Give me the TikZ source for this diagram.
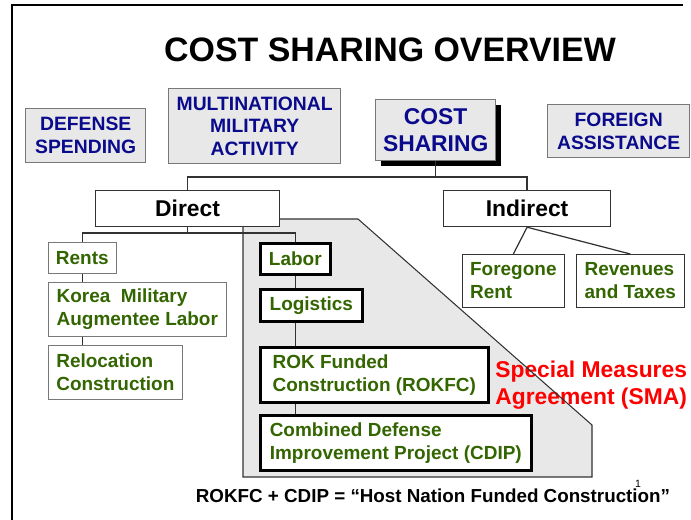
\documentclass[tikz,border=0pt]{standalone}
\usepackage{fontspec}
\setmainfont{Liberation Sans}
\definecolor{navyblue}{RGB}{10, 10, 140}
\definecolor{leafgreen}{RGB}{51, 102, 0}
\definecolor{panelgray}{RGB}{232, 232, 232}
\definecolor{boxgray}{RGB}{120, 120, 120}
\definecolor{darkline}{RGB}{50, 50, 50}
\definecolor{smared}{RGB}{255, 0, 0}
\usetikzlibrary{shadows}
\tikzset{
  topbox/.style={rectangle, draw=boxgray, fill=panelgray, line width=0.8pt, text=navyblue, font=\fontsize{11}{13}\selectfont\bfseries, align=center, inner sep=2pt, anchor=north west},
  branchnode/.style={rectangle, draw=darkline, fill=white, line width=0.7pt, font=\fontsize{13}{15}\selectfont\bfseries, minimum height=0.72cm, anchor=north west},
  leafnode/.style={rectangle, draw=#1, fill=white, text=leafgreen, font=\fontsize{10.8}{13}\selectfont\bfseries, align=left, inner sep=2pt, anchor=north west},
  smaleaf/.style={leafnode=black, line width=1.5pt},
  link/.style={draw=darkline, line width=0.7pt},
}

\begin{document}
\begin{tikzpicture}[x=0.02cm, y=-0.02cm]
\useasboundingbox (0,0) rectangle (691,520);
% slide frame and title
\draw[line width=1.7pt] (683,5) -- (12,5) -- (12,520);
\node[anchor=base, font=\fontsize{19.3}{23}\selectfont\bfseries] (title) at (390,62) {COST SHARING OVERVIEW};

% special measures area
\fill[panelgray] (243,219) -- (358,219) -- (592,425) -- (592,477) -- (243,477) -- cycle;
\node[anchor=west, inner sep=0pt, text=smared, align=left, font=\fontsize{13}{15.5}\selectfont\bfseries] (sma) at (495,385) {Special Measures\\Agreement (SMA)};
\draw[darkline, line width=0.6pt] (243,219) -- (358,219) -- (592,425) -- (592,477) -- (243,477) -- cycle;

% top row
\node[topbox, minimum width=2.4cm, minimum height=1.08cm] (defense) at (25,108) {DEFENSE\\SPENDING};
\node[topbox, minimum width=3.44cm, minimum height=1.5cm] (multi) at (168,88) {MULTINATIONAL\\MILITARY\\ACTIVITY};
\node[topbox, minimum width=2.4cm, minimum height=1.22cm, font=\fontsize{13}{15}\selectfont\bfseries,
  drop shadow={fill=black, opacity=1, shadow xshift=0.1cm, shadow yshift=-0.1cm}] (cost) at (375,99) {COST\\SHARING};
\node[topbox, minimum width=2.84cm, minimum height=1.06cm] (foreign) at (547,104) {FOREIGN\\ASSISTANCE};

% direct / indirect
\node[branchnode, minimum width=3.68cm] (direct) at (95,190) {Direct};
\node[branchnode, minimum width=3.34cm] (indirect) at (443,190) {Indirect};

% direct, outside SMA
\node[leafnode=boxgray, minimum width=1.36cm, minimum height=0.62cm] (rents) at (48,242) {Rents};
\node[leafnode=boxgray, minimum width=3.56cm, minimum height=1.08cm] (korea) at (48,282) {Korea~ Military\\Augmentee Labor};
\node[leafnode=boxgray, minimum width=2.68cm, minimum height=1.08cm] (reloc) at (48,345) {Relocation\\Construction};

% direct, inside SMA
\node[smaleaf, minimum width=1.4cm, minimum height=0.62cm] (labor) at (259,242) {Labor};
\node[smaleaf, minimum width=2.04cm, minimum height=0.64cm] (logis) at (259,288) {Logistics};
\node[smaleaf, minimum width=4.56cm, minimum height=1.1cm] (rokfc) at (259,346) {ROK Funded\\Construction (ROKFC)};
\node[smaleaf, minimum width=5.42cm, minimum height=1.1cm] (cdip) at (259,414) {Combined Defense\\Improvement Project (CDIP)};

% indirect
\node[leafnode=darkline, minimum width=2.04cm, minimum height=1.06cm] (foregone) at (462,254) {Foregone\\Rent};
\node[leafnode=darkline, minimum width=2.16cm, minimum height=1.06cm] (revenues) at (576,254) {Revenues\\and Taxes};

% connectors
\coordinate (topbar) at (0,177);
\coordinate (dirbar) at (0,233);
\draw[link] (cost.south) -- (cost.south |- topbar) -| (direct.north);
\draw[link] (cost.south |- topbar) -| (indirect.north);
\draw[link] (direct.south) -- (direct.south |- dirbar) -| (rents.north);
\draw[link] (direct.south |- dirbar) -| (labor.north);
\draw[link] (rents.south) -- (rents.south |- korea.north);
\draw[link] (rents.south |- korea.south) -- (rents.south |- reloc.north);
\draw[link] (labor.south) -- (labor.south |- logis.north);
\draw[link] (labor.south |- logis.south) -- (labor.south |- rokfc.north);
\draw[link] (labor.south |- rokfc.south) -- (labor.south |- cdip.north);
\draw[link] (indirect.south) -- (foregone.north);
\draw[link] (indirect.south) -- (revenues.north);

% footer
\node[anchor=base, font=\fontsize{10.7}{13}\selectfont\bfseries] (footer) at (433,503) {ROKFC + CDIP = “Host Nation Funded Construction”};
\node[font=\fontsize{6}{7}\selectfont] (pagenum) at (638,484) {1};
\end{tikzpicture}
\end{document}
